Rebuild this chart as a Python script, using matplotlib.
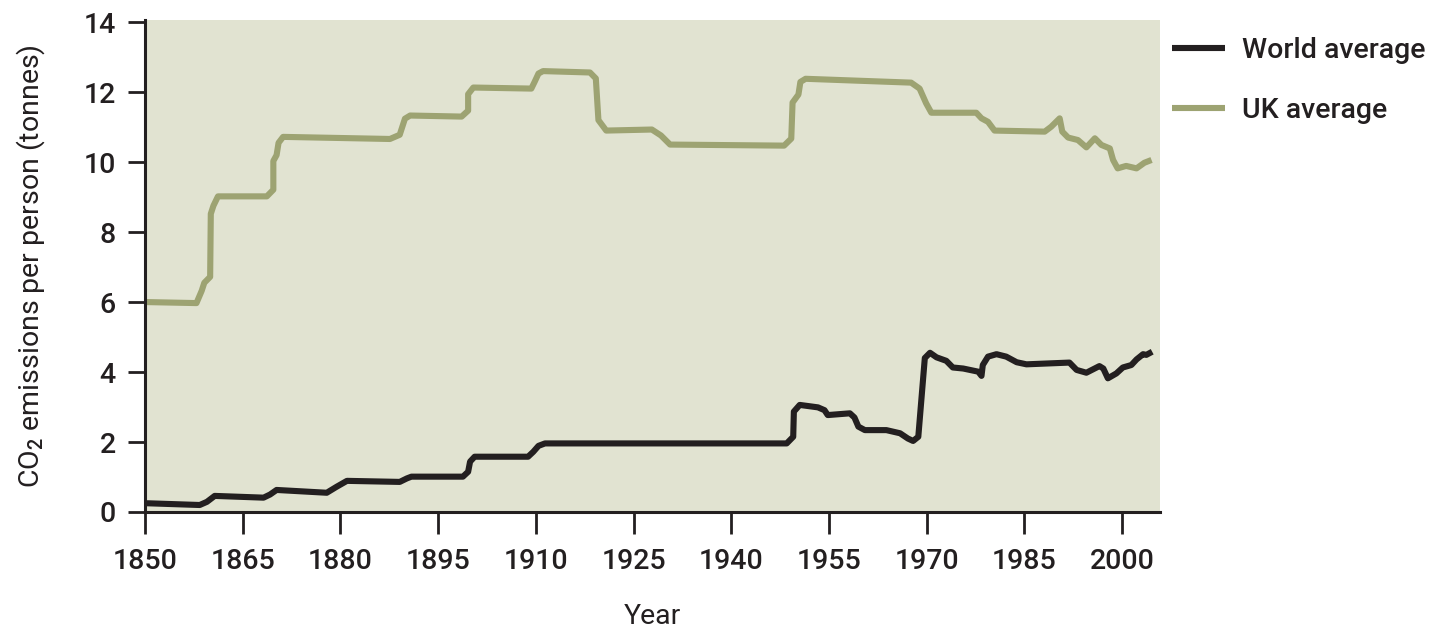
import matplotlib
matplotlib.use("Agg")
import matplotlib.pyplot as plt

# values
world_years = [1850.3, 1858.4, 1859.5, 1860.7, 1868.2, 1869.2, 1870.2, 1877.9, 1879.4, 1881.0,
               1889.1, 1890.2, 1890.9, 1898.8, 1899.6, 1899.9, 1900.6, 1908.8, 1909.6, 1910.4,
               1911.4, 1948.5, 1949.5, 1949.6, 1950.5, 1953.3, 1954.3, 1954.8, 1958.2, 1958.9,
               1959.5, 1960.5, 1963.8, 1965.9, 1967.1, 1967.9, 1968.7, 1969.7, 1970.5, 1971.5,
               1973.0, 1974.0, 1975.6, 1977.9, 1978.4, 1978.6, 1979.4, 1980.7, 1982.2, 1983.8,
               1985.3, 1991.9, 1993.0, 1994.5, 1996.5, 1997.1, 1997.8, 1999.1, 2000.1, 2001.4,
               2002.2, 2003.2, 2003.7, 2004.6]
world_values = [0.25, 0.20, 0.29, 0.46, 0.41, 0.50, 0.63, 0.55, 0.72, 0.89,
                0.86, 0.96, 1.01, 1.01, 1.15, 1.44, 1.58, 1.58, 1.72, 1.89,
                1.96, 1.96, 2.15, 2.87, 3.06, 2.99, 2.91, 2.77, 2.82, 2.70,
                2.44, 2.34, 2.34, 2.25, 2.10, 2.03, 2.15, 4.40, 4.55, 4.42,
                4.32, 4.13, 4.10, 4.01, 3.89, 4.20, 4.44, 4.51, 4.44, 4.28,
                4.22, 4.27, 4.06, 3.98, 4.17, 4.10, 3.82, 3.96, 4.13, 4.20,
                4.36, 4.51, 4.49, 4.58]

uk_years = [1850.0, 1857.9, 1858.7, 1859.1, 1860.0, 1860.1, 1860.5, 1861.2, 1868.7, 1869.7,
            1869.7, 1870.2, 1870.5, 1871.2, 1887.6, 1889.1, 1889.9, 1890.7, 1898.6, 1899.6,
            1899.6, 1900.4, 1909.3, 1909.8, 1910.4, 1911.1, 1918.3, 1919.2, 1919.6, 1920.8,
            1927.8, 1929.2, 1930.6, 1948.1, 1949.2, 1949.4, 1950.3, 1950.6, 1951.4, 1967.6,
            1968.9, 1969.9, 1970.7, 1977.6, 1978.4, 1979.4, 1980.4, 1988.1, 1989.1, 1990.4,
            1990.8, 1991.7, 1993.2, 1994.5, 1995.8, 1996.8, 1998.1, 1998.6, 1999.3, 2000.6,
            2002.2, 2003.4, 2004.5]
uk_values = [6.00, 5.97, 6.32, 6.55, 6.72, 8.52, 8.75, 9.02, 9.02, 9.21,
             10.03, 10.20, 10.55, 10.72, 10.66, 10.78, 11.24, 11.33, 11.30, 11.47,
             11.94, 12.13, 12.10, 12.29, 12.53, 12.60, 12.56, 12.39, 11.20, 10.90,
             10.93, 10.76, 10.50, 10.47, 10.67, 11.70, 11.93, 12.29, 12.38, 12.27,
             12.10, 11.68, 11.41, 11.41, 11.25, 11.15, 10.90, 10.87, 11.01, 11.25,
             10.87, 10.70, 10.63, 10.42, 10.68, 10.49, 10.39, 10.06, 9.82, 9.89,
             9.82, 9.98, 10.06]

x_ticks = [1850, 1865, 1880, 1895, 1910, 1925, 1940, 1955, 1970, 1985, 2000]
y_ticks = [0, 2, 4, 6, 8, 10, 12, 14]

dark = "#231f20"
green = "#9da372"
panel = "#e1e3d1"
fs = 20.5

plt.rcParams["font.family"] = ["Roboto", "DejaVu Sans"]
plt.rcParams["font.weight"] = "medium"
plt.rcParams["mathtext.fontset"] = "custom"
plt.rcParams["mathtext.rm"] = "Roboto:medium"
plt.rcParams["text.color"] = dark

fig = plt.figure(figsize=(14.38, 6.35), dpi=100)
ax = fig.add_axes([145 / 1438, 1 - 512 / 635, 1015 / 1438, 492 / 635])
ax.set_facecolor(panel)

ax.plot(world_years, world_values, color=dark, lw=4.4, solid_joinstyle="round",
        solid_capstyle="butt", label="World average")
ax.plot(uk_years, uk_values, color=green, lw=4.4, solid_joinstyle="round",
        solid_capstyle="butt", label="UK average")

ax.set_xlim(1850, 2005.8)
ax.set_ylim(0, 14.06)
ax.set_xticks(x_ticks)
ax.set_yticks(y_ticks)

for side in ["top", "right"]:
    ax.spines[side].set_visible(False)
for side in ["left", "bottom"]:
    ax.spines[side].set_color(dark)
    ax.spines[side].set_linewidth(2.2)

ax.tick_params(axis="x", direction="out", length=16, width=2, color=dark,
               labelsize=fs, labelcolor=dark, pad=10)
ax.tick_params(axis="y", direction="out", length=12, width=2, color=dark,
               labelsize=fs, labelcolor=dark, pad=9)

ax.set_xlabel("Year", fontsize=fs, color=dark, labelpad=20)
ax.set_ylabel("CO$_2$ emissions per person (tonnes)", fontsize=fs, color=dark, labelpad=26)

leg = ax.legend(loc="upper left", bbox_to_anchor=(1172 / 1438, 1 - 37 / 635),
                bbox_transform=fig.transFigure, frameon=False, fontsize=fs,
                handlelength=1.86, handletextpad=0.6, labelspacing=1.17,
                borderpad=0, borderaxespad=0)
for line in leg.get_lines():
    line.set_linewidth(4.4)

fig.savefig("out.png", dpi=100)
